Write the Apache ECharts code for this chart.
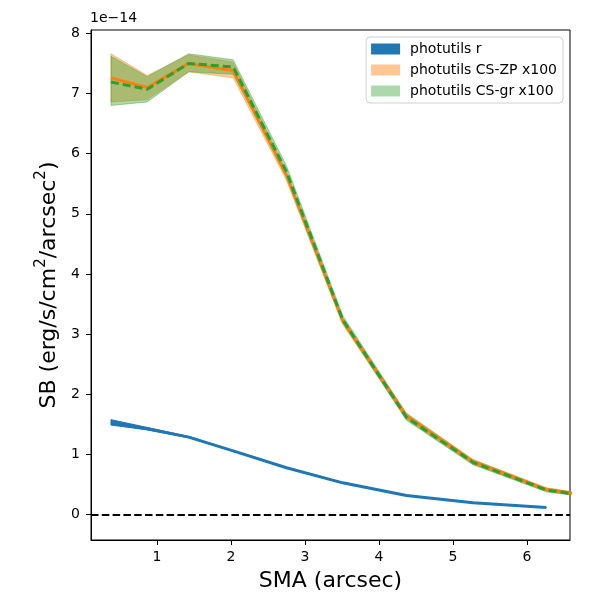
<!DOCTYPE html>
<html>
<head>
<meta charset="utf-8">
<script src="https://cdn.jsdelivr.net/npm/echarts@6/dist/echarts.min.js"></script>
<style>
  html, body { margin: 0; padding: 0; background: #fff; }
  #chart { width: 600px; height: 600px; }
</style>
</head>
<body>
<div id="chart"></div>
<script>
// SMA sample positions (arcsec), last one sits past the right edge and gets clipped
const sma = [0.38, 0.87, 1.43, 2.03, 2.75, 3.51, 4.37, 5.27, 6.26, 7.3];

// photutils r profile (x1e-14)
const rMid = [1.535, 1.43, 1.29, 1.06, 0.78, 0.53, 0.32, 0.20, 0.12];
const rLo = [1.49, 1.41, 1.28, 1.055, 0.775, 0.525, 0.317, 0.197, 0.118];
const rHi = [1.58, 1.45, 1.30, 1.065, 0.785, 0.535, 0.323, 0.203, 0.122];

// CS-ZP x100
const zpMid = [7.26, 7.10, 7.50, 7.38, 5.64, 3.22, 1.64, 0.88, 0.42, 0.23];
const zpLo = [6.86, 6.90, 7.36, 7.26, 5.56, 3.16, 1.59, 0.84, 0.39, 0.21];
const zpHi = [7.66, 7.30, 7.64, 7.52, 5.70, 3.27, 1.69, 0.92, 0.45, 0.25];

// CS-gr x100
const grMid = [7.19, 7.07, 7.50, 7.44, 5.70, 3.24, 1.62, 0.87, 0.41, 0.23];
const grLo = [6.80, 6.86, 7.36, 7.32, 5.64, 3.19, 1.57, 0.83, 0.38, 0.21];
const grHi = [7.62, 7.28, 7.66, 7.56, 5.80, 3.31, 1.68, 0.91, 0.44, 0.25];

const xTicks = [1, 2, 3, 4, 5, 6];
const yTicks = [0, 1, 2, 3, 4, 5, 6, 7, 8];

const FONT = 'DejaVu Sans';

function pairs(ys) {
  return ys.map((y, i) => [sma[i], y]);
}

// fill_between: one polygon, upper edge forward then lower edge back
function band(name, lo, hi, fill) {
  return {
    name: name,
    type: 'custom',
    clip: true,
    silent: true,
    data: [[sma[0], hi[0]]],
    renderItem(params, api) {
      const top = hi.map((v, i) => api.coord([sma[i], v]));
      const bot = lo.map((v, i) => api.coord([sma[i], v])).reverse();
      return {
        type: 'polygon',
        shape: { points: top.concat(bot) },
        style: { fill: fill, stroke: fill, lineWidth: 1 },
      };
    },
  };
}

const chart = echarts.init(document.getElementById('chart'), null, { renderer: 'canvas' });

const option = {
  animation: false,
  backgroundColor: '#fff',
  grid: {
    left: 91,
    right: 30,
    top: 30,
    bottom: 60,
    show: true,
    borderColor: '#000',
    borderWidth: 1,
    backgroundColor: 'transparent',
  },
  legend: {
    orient: 'vertical',
    right: 37,
    top: 37,
    itemWidth: 29,
    itemHeight: 11,
    itemGap: 7,
    padding: [5, 6, 5, 5],
    borderColor: '#d0d0d0',
    borderWidth: 1,
    borderRadius: 4,
    backgroundColor: 'rgba(255,255,255,0.8)',
    textStyle: { fontFamily: FONT, fontSize: 14, color: '#000', lineHeight: 14, padding: [0, 0, 0, 5] },
    data: [
      { name: 'photutils r', icon: 'rect', itemStyle: { color: '#1f77b4' } },
      { name: 'photutils CS-ZP x100', icon: 'rect', itemStyle: { color: 'rgba(255,127,14,0.45)' } },
      { name: 'photutils CS-gr x100', icon: 'rect', itemStyle: { color: 'rgba(44,160,44,0.4)' } },
    ],
  },
  xAxis: {
    type: 'value',
    min: 0.11,
    max: 6.58,
    name: 'SMA (arcsec)',
    nameLocation: 'middle',
    nameGap: 30,
    nameTextStyle: { fontFamily: FONT, fontSize: 22, color: '#000' },
    axisLine: { show: true, onZero: false, lineStyle: { color: '#000' } },
    axisTick: { show: true, inside: false, length: 5, customValues: xTicks, lineStyle: { color: '#000' } },
    axisLabel: { fontFamily: FONT, fontSize: 14, color: '#000', margin: 10, customValues: xTicks },
    splitLine: { show: false },
  },
  yAxis: {
    type: 'value',
    min: -0.42,
    max: 8.055,
    name: '{a|SB (erg/s/cm}{s|2}{a|/arcsec}{s|2}{a|)}',
    nameLocation: 'middle',
    nameRotate: 90,
    nameGap: 31,
    nameTextStyle: {
      fontFamily: FONT,
      fontSize: 22,
      color: '#000',
      rich: {
        a: { fontFamily: FONT, fontSize: 22, color: '#000', lineHeight: 26, verticalAlign: 'bottom' },
        s: { fontFamily: FONT, fontSize: 15, color: '#000', lineHeight: 26, verticalAlign: 'top' },
      },
    },
    axisLine: { show: true, onZero: false, lineStyle: { color: '#000' } },
    axisTick: { show: true, inside: false, length: 5, customValues: yTicks, lineStyle: { color: '#000' } },
    axisLabel: { fontFamily: FONT, fontSize: 14, color: '#000', margin: 11, customValues: yTicks },
    splitLine: { show: false },
  },
  graphic: [
    {
      type: 'text',
      left: 90,
      top: 11,
      style: { text: '1e\u221214', font: '14px "DejaVu Sans"', fill: '#000' },
    },
  ],
  series: [
    band('photutils r', rLo, rHi, '#1f77b4'),
    {
      name: 'r-line',
      type: 'line',
      data: pairs(rMid),
      symbol: 'none',
      lineStyle: { color: '#1f77b4', width: 3 },
    },
    band('photutils CS-ZP x100', zpLo, zpHi, 'rgba(255,127,14,0.4)'),
    band('photutils CS-gr x100', grLo, grHi, 'rgba(44,160,44,0.4)'),
    {
      name: 'zp-line',
      type: 'line',
      data: pairs(zpMid),
      symbol: 'none',
      lineStyle: { color: '#ff7f0e', width: 3 },
    },
    {
      name: 'gr-line',
      type: 'line',
      data: pairs(grMid),
      symbol: 'none',
      lineStyle: { color: '#2ca02c', width: 3, type: [8, 4] },
      markLine: {
        silent: true,
        symbol: 'none',
        z: 10,
        label: { show: false },
        emphasis: { disabled: true },
        lineStyle: { color: '#000', width: 2.2, opacity: 1, type: [7.5, 3.3] },
        data: [{ yAxis: 0 }],
      },
    },
  ],
};

chart.setOption(option);
</script>
</body>
</html>
